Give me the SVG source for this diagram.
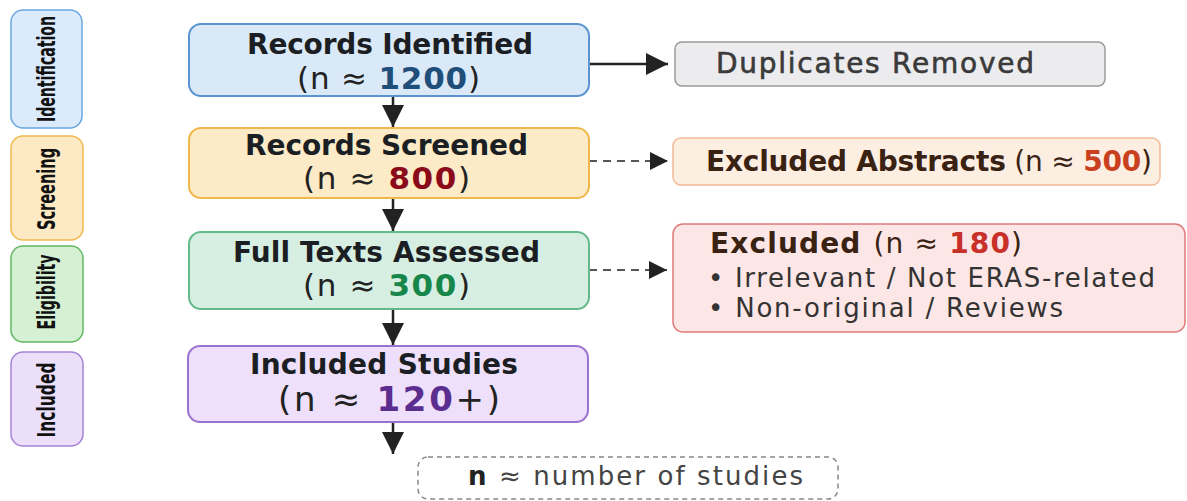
<svg xmlns="http://www.w3.org/2000/svg" width="1187" height="501" viewBox="0 0 1187 501">
<defs>
<style>
text{font-family:"DejaVu Sans","Open Sans",sans-serif;}
.side{font-family:"DejaVu Sans Condensed","Open Sans",sans-serif;font-weight:bold;font-size:25px;fill:#111;text-anchor:middle;}
.t1{font-weight:bold;font-size:28px;fill:#1b1f24;}
.t2{font-size:31px;fill:#222;}
.b{font-weight:bold;}
.flow{stroke:#222;stroke-width:2.5;fill:none;}
.dash{stroke:#555;stroke-width:2;fill:none;stroke-dasharray:8 6;}
.rt{font-size:28px;}
.bl{font-size:26px;fill:#333;}
</style>
<marker id="ahd" viewBox="0 0 10 10" refX="10" refY="5" markerWidth="9" markerHeight="9" orient="auto">
<path d="M0,0 L10,5 L0,10 z" fill="#222"/>
</marker>
</defs>
<rect width="1187" height="501" fill="#ffffff"/>

<g id="side-identification">
<rect x="11" y="10" width="71" height="118" rx="12" fill="#dcebfb" stroke="#6aa6e0" stroke-width="1.5"/>
<text class="side" transform="translate(55,69) rotate(-90) scale(0.6,1)" textLength="177" lengthAdjust="spacingAndGlyphs">Identification</text>
</g>
<g id="side-screening">
<rect x="11" y="136" width="72" height="104" rx="12" fill="#fdeac4" stroke="#f2b84b" stroke-width="1.5"/>
<text class="side" transform="translate(55,189) rotate(-90) scale(0.6,1)" textLength="137" lengthAdjust="spacingAndGlyphs">Screening</text>
</g>
<g id="side-eligibility">
<rect x="11" y="246" width="72" height="96" rx="12" fill="#d5f0d3" stroke="#62b862" stroke-width="1.5"/>
<text class="side" transform="translate(55,292) rotate(-90) scale(0.6,1)" textLength="125" lengthAdjust="spacingAndGlyphs">Eligibility</text>
</g>
<g id="side-included">
<rect x="11" y="352" width="72" height="94" rx="12" fill="#ecdffa" stroke="#a583d6" stroke-width="1.5"/>
<text class="side" transform="translate(55,400) rotate(-90) scale(0.6,1)" textLength="125" lengthAdjust="spacingAndGlyphs">Included</text>
</g>

<g id="connectors">
<line class="flow" x1="393" y1="96" x2="393" y2="127" marker-end="url(#ahd)"/>
<line class="flow" x1="393" y1="198" x2="393" y2="231" marker-end="url(#ahd)"/>
<line class="flow" x1="393" y1="309" x2="393" y2="345" marker-end="url(#ahd)"/>
<line class="flow" x1="393" y1="422" x2="393" y2="454" marker-end="url(#ahd)"/>
<line class="flow" x1="589" y1="64" x2="668" y2="64" marker-end="url(#ahd)"/>
<line class="dash" x1="589" y1="161" x2="668" y2="161" marker-end="url(#ahd)"/>
<line class="dash" x1="589" y1="270" x2="667" y2="270" marker-end="url(#ahd)"/>
</g>

<g id="records-identified">
<rect x="189" y="24" width="400" height="72" rx="12" fill="#dae9f8" stroke="#5a94d0" stroke-width="2"/>
<text class="t1" x="247" y="54" textLength="286">Records Identified</text>
<text class="t2" x="297" y="89" textLength="183">(n ≈ <tspan class="b" fill="#1f4e79">1200</tspan>)</text>
</g>
<g id="records-screened">
<rect x="189" y="128" width="400" height="70" rx="12" fill="#fdebc8" stroke="#f0b84a" stroke-width="2"/>
<text class="t1" x="245" y="155" textLength="283">Records Screened</text>
<text class="t2" x="303" y="189" textLength="167">(n ≈ <tspan class="b" fill="#8b0a1a">800</tspan>)</text>
</g>
<g id="full-texts">
<rect x="189" y="232" width="400" height="77" rx="12" fill="#d7efe3" stroke="#64b98a" stroke-width="2"/>
<text class="t1" x="233" y="262" textLength="307">Full Texts Assessed</text>
<text class="t2" x="303" y="296" textLength="167">(n ≈ <tspan class="b" fill="#17864a">300</tspan>)</text>
</g>
<g id="included-studies">
<rect x="188" y="346" width="400" height="76" rx="12" fill="#eee0fa" stroke="#9a72d0" stroke-width="2"/>
<text class="t1" x="250" y="374" textLength="268">Included Studies</text>
<text class="t2" x="278" y="411" textLength="222" style="font-size:34px">(n ≈ <tspan class="b" fill="#5b2d8e">120</tspan>+)</text>
</g>

<g id="duplicates-removed">
<rect x="675" y="42" width="430" height="44" rx="7" fill="#ececee" stroke="#9a9a9a" stroke-width="1.5"/>
<text x="716" y="73" textLength="318" style="font-size:28px;fill:#3a3a3a;stroke:#3a3a3a;stroke-width:0.6">Duplicates Removed</text>
</g>
<g id="excluded-abstracts">
<rect x="673" y="138" width="487" height="47" rx="8" fill="#fdeee2" stroke="#f2bb95" stroke-width="1.5"/>
<text class="rt" x="706" y="171" textLength="446" fill="#3a2212"><tspan class="b">Excluded Abstracts</tspan> (n ≈ <tspan class="b" fill="#c8401e">500</tspan>)</text>
</g>
<g id="excluded">
<rect x="673" y="224" width="512" height="108" rx="10" fill="#fde6e6" stroke="#e07a7a" stroke-width="1.5"/>
<text class="rt" x="710" y="253" textLength="312" fill="#3a2212"><tspan class="b">Excluded</tspan><tspan dx="12">(n ≈ </tspan><tspan class="b" fill="#c8302a">180</tspan>)</text>
<text class="bl" x="708" y="287" textLength="447">• Irrelevant / Not ERAS-related</text>
<text class="bl" x="708" y="317" textLength="355">• Non-original / Reviews</text>
</g>

<g id="legend">
<rect x="418" y="457" width="420" height="42" rx="10" fill="#ffffff" stroke="#888" stroke-width="1.5" stroke-dasharray="5 4"/>
<text x="468" y="485" textLength="335" style="font-size:26px;fill:#444"><tspan class="b" fill="#222">n</tspan> ≈ number of studies</text>
</g>
</svg>
